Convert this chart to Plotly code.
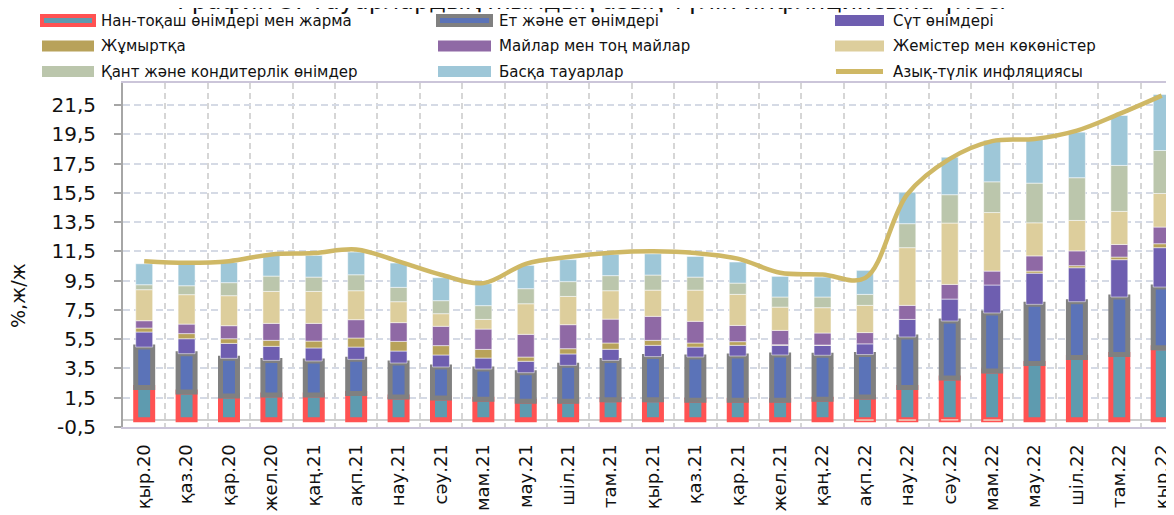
import plotly.graph_objects as go

months = ["қыр.20", "қаз.20", "қар.20", "жел.20", "қаң.21", "ақп.21", "нау.21", "сәу.21",
          "мам.21", "мау.21", "шіл.21", "там.21", "қыр.21", "қаз.21", "қар.21", "жел.21",
          "қаң.22", "ақп.22", "нау.22", "сәу.22", "мам.22", "мау.22", "шіл.22", "там.22", "қыр.22"]

bread = [2.20, 1.89, 1.62, 1.69, 1.69, 1.78, 1.55, 1.48, 1.39, 1.26, 1.26, 1.37, 1.37, 1.32, 1.32, 1.32,
         1.39, 1.55, 2.19, 2.85, 3.33, 3.83, 4.24, 4.46, 4.92]
meat = [2.76, 2.62, 2.57, 2.36, 2.32, 2.34, 2.32, 2.12, 2.07, 1.95, 2.45, 2.68, 2.94, 2.96, 3.03, 3.10,
        3.01, 2.90, 3.46, 3.89, 3.96, 4.05, 3.82, 3.92, 4.14]
dairy = [1.03, 1.02, 1.02, 0.96, 0.89, 0.84, 0.82, 0.82, 0.75, 0.78, 0.78, 0.76, 0.77, 0.68, 0.73, 0.66,
         0.68, 0.73, 1.20, 1.50, 1.91, 2.13, 2.32, 2.55, 2.69]
eggs = [0.27, 0.35, 0.32, 0.41, 0.47, 0.62, 0.66, 0.64, 0.59, 0.29, 0.36, 0.43, 0.34, 0.28, 0.25, 0.04,
        0.02, -0.05, -0.05, -0.03, -0.05, 0.14, 0.14, 0.18, 0.27]
oils = [0.50, 0.65, 0.89, 1.16, 1.21, 1.25, 1.28, 1.32, 1.39, 1.55, 1.64, 1.63, 1.64, 1.48, 1.11, 0.98,
        0.82, 0.77, 0.96, 1.00, 0.95, 1.04, 1.01, 0.86, 1.14]
fruit = [2.12, 2.01, 2.05, 2.18, 2.18, 1.98, 1.43, 0.86, 0.66, 2.09, 1.93, 1.94, 1.79, 2.13, 2.12, 1.59,
         1.73, 1.86, 3.94, 4.19, 4.00, 2.26, 2.08, 2.26, 2.29]
sugar = [0.34, 0.61, 0.89, 1.05, 0.98, 1.09, 0.98, 0.89, 0.94, 1.03, 1.01, 1.03, 1.03, 0.89, 0.77, 0.69,
         0.73, 0.75, 1.64, 1.94, 2.10, 2.71, 2.92, 3.14, 2.94]
other = [1.43, 1.45, 1.38, 1.41, 1.48, 1.55, 1.66, 1.57, 1.50, 1.59, 1.50, 1.45, 1.45, 1.41, 1.44, 1.41,
         1.36, 1.64, 2.15, 2.56, 2.84, 3.02, 3.11, 3.41, 3.82]
food_inflation = [10.83, 10.72, 10.83, 11.29, 11.38, 11.63, 10.81, 9.90, 9.33, 10.65, 11.11, 11.40, 11.50,
                  11.38, 11.00, 10.04, 9.92, 9.67, 15.40, 17.82, 19.03, 19.18, 19.75, 20.89, 22.14]

names = ["Нан-тоқаш өнімдері мен жарма", "Ет және ет өнімдері", "Сүт өнімдері", "Жұмыртқа",
         "Майлар мен тоң майлар", "Жемістер мен көкөністер", "Қант және кондитерлік өнімдер",
         "Басқа тауарлар", "Азық-түлік инфляциясы"]
title_text = "График 3. Тауарлардың жылдық азық-түлік инфляциясына үлесі"
y_title = "%,ж/ж"
y_tickvals = [-0.5, 1.5, 3.5, 5.5, 7.5, 9.5, 11.5, 13.5, 15.5, 17.5, 19.5, 21.5]
y_ticktext = ["-0,5", "1,5", "3,5", "5,5", "7,5", "9,5", "11,5", "13,5", "15,5", "17,5", "19,5", "21,5"]

fills = ["#5E9BAF", "#5B73B8", "#6E5EB0", "#B8A25A", "#8F69A5", "#DDCE9C", "#BBC6AC", "#9EC7D8"]
borders = ["#FF5252", "#808080", None, None, None, None, None, None]
line_color = "#CFB865"

# page body has an 8px default margin: the figure is laid out in screen coordinates minus 8
OFF = 8
W, H = 1174, 515
ML, MR, MT, MB = 123 - OFF, OFF, 83 - OFF, 515 - (427 - OFF)
PW, PH = W - ML - MR, H - MT - MB

def px(x):  # screen x -> paper
    return (x - OFF - ML) / PW

def py(y):  # screen y -> paper
    return (H - MB - (y - OFF)) / PH

fig = go.Figure()
series = [bread, meat, dairy, eggs, oils, fruit, sugar, other]
for i, vals in enumerate(series):
    if borders[i]:
        mline = dict(color=borders[i], width=5)
    else:
        mline = dict(color="rgba(255,255,255,0.5)", width=1)
    fig.add_trace(go.Bar(x=months, y=vals, name=names[i], marker=dict(color=fills[i], line=mline),
                         width=0.40, showlegend=False))

fig.add_trace(go.Scatter(x=months, y=food_inflation, name=names[8], mode="lines",
                         line=dict(color=line_color, width=4.5, shape="spline", smoothing=1),
                         showlegend=False))

# legend (manual, 3 columns): swatch x0, x1, text x
cols = [(41, 95, 99), (437, 492, 497), (834, 885, 891)]
rows = [20.5, 46, 71.5]
order = [[0, 3, 6], [1, 4, 7], [2, 5, 8]]
shapes = []
annotations = []
for c, (x0, x1, xt) in enumerate(cols):
    for r, idx in enumerate(order[c]):
        yc = rows[r]
        if idx == 8:
            shapes.append(dict(type="line", xref="paper", yref="paper", x0=px(x0 + 2), x1=px(x1 - 2),
                               y0=py(yc), y1=py(yc), line=dict(color=line_color, width=5)))
        elif borders[idx]:
            shapes.append(dict(type="rect", xref="paper", yref="paper", x0=px(x0 + 1), x1=px(x1 - 1),
                               y0=py(yc - 4.5), y1=py(yc + 4.5), fillcolor=fills[idx],
                               line=dict(color=borders[idx], width=4)))
        else:
            shapes.append(dict(type="rect", xref="paper", yref="paper", x0=px(x0 + 1), x1=px(x1 - 1),
                               y0=py(yc - 5.5), y1=py(yc + 5.5), fillcolor=fills[idx], line=dict(width=0)))
        annotations.append(dict(text=names[idx], xref="paper", yref="paper", x=px(xt), y=py(yc),
                                xanchor="left", yanchor="middle", showarrow=False,
                                font=dict(family="DejaVu Sans", size=15, color="#111111")))

annotations.append(dict(text=title_text, xref="paper", yref="paper", x=px(591), y=py(1.5),
                        xanchor="center", yanchor="middle", showarrow=False,
                        font=dict(family="DejaVu Sans", size=24, color="#111111")))
annotations.append(dict(text=y_title, xref="paper", yref="paper", x=px(18), y=py(296),
                        xanchor="center", yanchor="middle", textangle=-90, showarrow=False,
                        font=dict(family="DejaVu Sans", size=19, color="#111111")))

fig.update_layout(
    width=W, height=H, margin=dict(l=ML, r=MR, t=MT, b=MB, pad=0),
    barmode="relative", bargap=0.5,
    plot_bgcolor="white", paper_bgcolor="white",
    shapes=shapes, annotations=annotations,
    xaxis=dict(type="category", range=[-0.5, 24.29], tickson="boundaries", ticks="",
               automargin=False,
               showgrid=True, gridcolor="#D6D6D6", gridwidth=2, griddash="6px,4px",
               showline=True, linecolor="#CBC5D9", linewidth=2, mirror=True,
               tickangle=-90, ticklabelstandoff=8,
               tickfont=dict(family="DejaVu Sans", size=18, color="#111111")),
    yaxis=dict(range=[-0.5, 23.0], tickvals=y_tickvals, ticktext=y_ticktext,
               automargin=False,
               showgrid=True, gridcolor="#D5DAE5", gridwidth=2, griddash="7px,4px",
               zeroline=True, zerolinecolor="#CFCFCF", zerolinewidth=2,
               showline=True, linecolor="#A6A6A6", linewidth=2,
               ticks="outside", ticklen=7, tickwidth=2, tickcolor="#A6A6A6",
               ticklabelstandoff=14,
               tickfont=dict(family="DejaVu Sans", size=20, color="#111111")),
)

fig.write_html("out.html")
